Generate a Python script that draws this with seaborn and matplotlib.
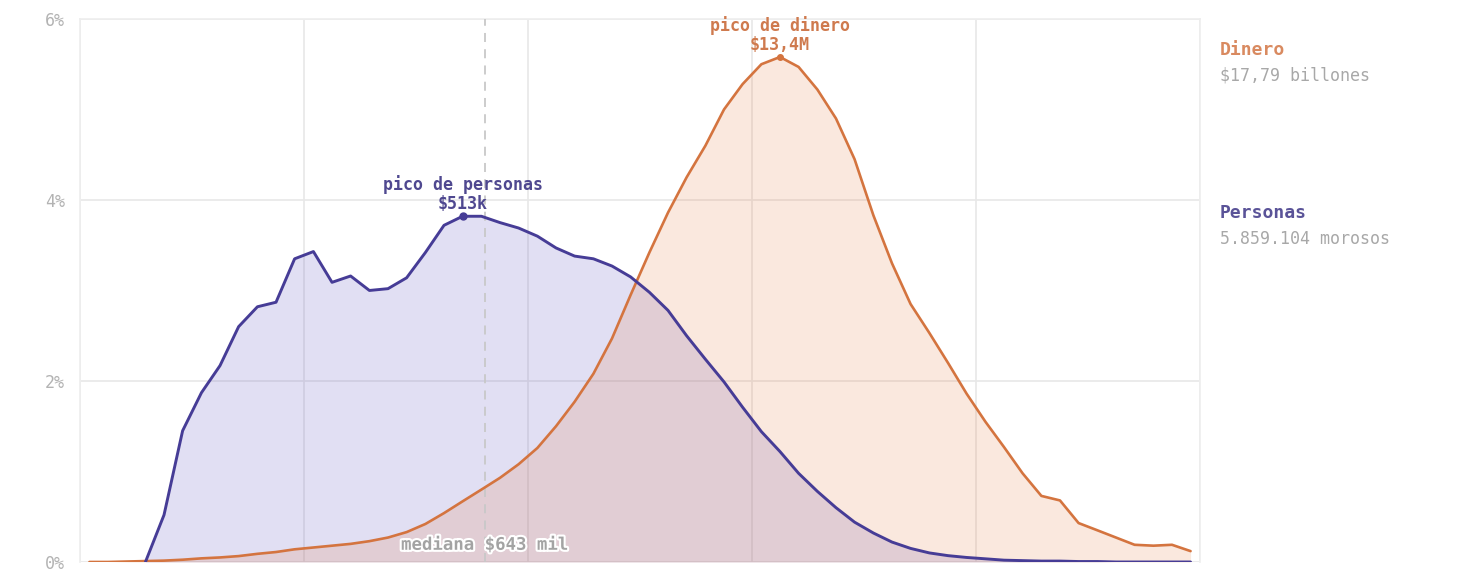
import numpy as np
import pandas as pd
import matplotlib.pyplot as plt
import matplotlib.patheffects as pe
import seaborn as sns

# Centros de los tramos de deuda (log10 del monto, 12 tramos por década)
log_monto = [
    4.042, 4.125, 4.208, 4.292, 4.375, 4.458, 4.542, 4.625, 4.708, 4.792, 4.875, 4.958,
    5.042, 5.125, 5.208, 5.292, 5.375, 5.458, 5.542, 5.625, 5.708, 5.792, 5.875, 5.958,
    6.042, 6.125, 6.208, 6.292, 6.375, 6.458, 6.542, 6.625, 6.708, 6.792, 6.875, 6.958,
    7.042, 7.125, 7.208, 7.292, 7.375, 7.458, 7.542, 7.625, 7.708, 7.792, 7.875, 7.958,
    8.042, 8.125, 8.208, 8.292, 8.375, 8.458, 8.542, 8.625, 8.708, 8.792, 8.875, 8.958,
]

# % de personas en cada tramo
personas = [
    np.nan, np.nan, np.nan, 0.0, 0.52, 1.45, 1.87, 2.17, 2.60, 2.82, 2.87, 3.35,
    3.43, 3.09, 3.16, 3.00, 3.02, 3.14, 3.42, 3.72, 3.82, 3.82, 3.75, 3.69,
    3.60, 3.47, 3.38, 3.35, 3.27, 3.15, 2.98, 2.78, 2.50, 2.24, 1.99, 1.71,
    1.44, 1.22, 0.98, 0.78, 0.60, 0.44, 0.32, 0.22, 0.15, 0.10, 0.07, 0.05,
    0.035, 0.02, 0.015, 0.01, 0.01, 0.005, 0.005, 0.0, 0.0, 0.0, 0.0, 0.0,
]

# % del dinero adeudado en cada tramo
dinero = [
    0.0, 0.0, 0.005, 0.01, 0.015, 0.025, 0.04, 0.05, 0.065, 0.09, 0.11, 0.14,
    0.16, 0.18, 0.20, 0.23, 0.27, 0.33, 0.42, 0.54, 0.67, 0.80, 0.93, 1.08,
    1.26, 1.50, 1.77, 2.08, 2.47, 2.95, 3.42, 3.86, 4.25, 4.60, 5.00, 5.28,
    5.50, 5.58, 5.47, 5.22, 4.90, 4.45, 3.83, 3.30, 2.85, 2.53, 2.20, 1.86,
    1.55, 1.27, 0.98, 0.73, 0.68, 0.43, 0.35, 0.27, 0.19, 0.18, 0.19, 0.12,
]

mediana = 643000
y_ticks = [0, 2, 4, 6]
x_grid = [1e4, 1e5, 1e6, 1e7, 1e8, 1e9]

df = pd.DataFrame({'monto': 10 ** np.array(log_monto),
                   'personas': personas, 'dinero': dinero})

c_per = '#463c96'
c_din = '#d4743f'

sns.set_theme(style="white")
plt.rcParams['font.family'] = ['DejaVu Sans Mono', 'DejaVu Sans']

fig = plt.figure(figsize=(14.82, 5.82), dpi=100)
ax = fig.add_axes([0.054, 0.0344, 0.7557, 0.933])

# Áreas
ax.fill_between(df['monto'], df['personas'], color='#6b5fc4', alpha=0.2, lw=0, zorder=1)
ax.fill_between(df['monto'], df['dinero'], color='#e6783c', alpha=0.17, lw=0, zorder=2)

# Líneas
sns.lineplot(x='monto', y='dinero', data=df, color=c_din, lw=1.9, ax=ax, zorder=4)
sns.lineplot(x='monto', y='personas', data=df, color=c_per, lw=2.1, ax=ax, zorder=5)

ax.set_xscale('log')
ax.set_xlim(1e4, 1e9)
ax.set_ylim(0, 6)
ax.set_xticks(x_grid)
ax.minorticks_off()
ax.set_yticks(y_ticks)
ax.set_yticklabels([f'{v}%' for v in y_ticks])
ax.tick_params(axis='y', length=0, pad=11, labelsize=12, labelcolor='#b3b3b3')
ax.tick_params(axis='x', length=0, labelbottom=False)
ax.grid(True, color='#e8e8e8', lw=1.2, zorder=0)
ax.set_xlabel('')
ax.set_ylabel('')
for s in ['left', 'top', 'right']:
    ax.spines[s].set_color('#eeeeee')
ax.spines['bottom'].set_visible(False)

# Mediana
ax.axvline(mediana, color='#c8c8c8', lw=1.3, ls=(0, (5, 4)), zorder=3)
ax.text(mediana, 0.19, 'mediana $643 mil', ha='center', va='center',
        fontsize=12.5, fontweight='bold', color='#a3a3a3', zorder=6,
        path_effects=[pe.withStroke(linewidth=3, foreground='white')])

# Picos
i_per = int(np.nanargmax(df['personas']))
i_din = int(np.nanargmax(df['dinero']))
x_per, y_per = df['monto'][i_per], df['personas'][i_per]
x_din, y_din = df['monto'][i_din], df['dinero'][i_din]
ax.plot([x_per], [y_per], 'o', color=c_per, ms=5, zorder=6)
ax.plot([x_din], [y_din], 'o', color=c_din, ms=4, zorder=6)
ax.annotate('pico de personas\n$513k', (x_per, y_per), xytext=(0, 2),
            textcoords='offset points', ha='center', va='bottom',
            fontsize=12, fontweight='bold', color='#4f4890', linespacing=1.1, zorder=7)
ax.annotate('pico de dinero\n$13,4M', (x_din, y_din), xytext=(0, 2),
            textcoords='offset points', ha='center', va='bottom',
            fontsize=12, fontweight='bold', color='#cf7a4e', linespacing=1.1, zorder=7)

# Leyenda a la derecha
fig.text(0.823, 0.914, 'Dinero', ha='left', va='center', fontsize=13,
         fontweight='bold', color='#d98a60')
fig.text(0.823, 0.871, '$17,79 billones', ha='left', va='center', fontsize=12,
         color='#a8a8a8')
fig.text(0.823, 0.634, 'Personas', ha='left', va='center', fontsize=13,
         fontweight='bold', color='#5a5398')
fig.text(0.823, 0.589, '5.859.104 morosos', ha='left', va='center', fontsize=12,
         color='#a8a8a8')

plt.savefig('out.png', dpi=100, facecolor='white')
